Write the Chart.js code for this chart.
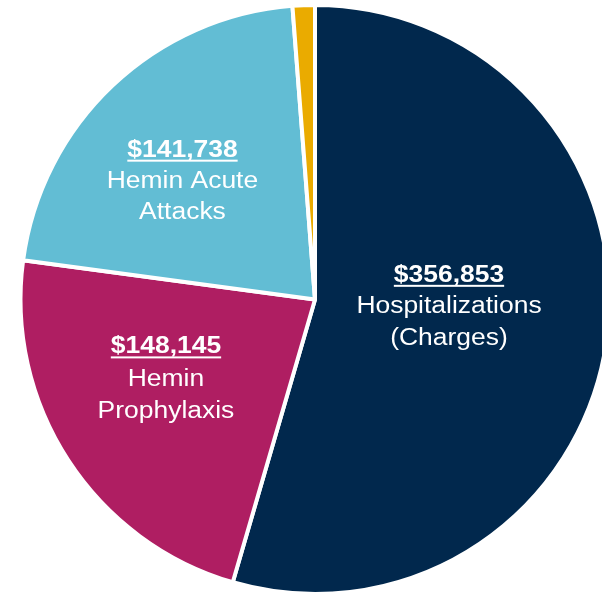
<!DOCTYPE html>
<html>
<head>
<meta charset="utf-8">
<script src="https://cdn.jsdelivr.net/npm/chart.js@4/dist/chart.umd.min.js"></script>
<style>
  html, body { margin: 0; padding: 0; background: #fff; overflow: hidden; }
  #wrap { position: absolute; left: 0; top: 3px; width: 630px; height: 593px; }
</style>
</head>
<body>
<div id="wrap"><canvas id="pie" width="630" height="593"></canvas></div>
<script>
// data
var categories = ["Hospitalizations (Charges)", "Hemin Prophylaxis", "Hemin Acute Attacks", "Other"];
var costs = [356853, 148145, 141738, 8000];
var amountLabels = ["$356,853", "$148,145", "$141,738", ""];
var nameLines = [["Hospitalizations", "(Charges)"], ["Hemin", "Prophylaxis"], ["Hemin Acute", "Attacks"], []];
var colors = ["#01284D", "#AF1E62", "#62BDD4", "#EAAB00"];

// where each text block sits, relative to the pie centre, in radii
var labelPos = [
    { dx: 0.455, dy: -0.06, gap: 0.107 },
    { dx: -0.506, dy: 0.183, gap: 0.11 },
    { dx: -0.450, dy: -0.485, gap: 0.106 }
];

var sliceLabels = {
    id: 'sliceLabels',
    afterDatasetsDraw: function(chart) {
        var ctx = chart.ctx;
        var arcs = chart.getDatasetMeta(0).data;
        var cx = arcs[0].x, cy = arcs[0].y, r = arcs[0].outerRadius;
        ctx.save();
        ctx.fillStyle = "#fff";
        ctx.strokeStyle = "#fff";
        ctx.textAlign = "center";
        ctx.textBaseline = "alphabetic";
        for (var i = 0; i < labelPos.length; i++) {
            var p = labelPos[i];
            var x = cx + p.dx * r;
            var y = cy + p.dy * r;
            var lines = [amountLabels[i]].concat(nameLines[i]);
            for (var j = 0; j < lines.length; j++) {
                var ly = y + j * p.gap * r;
                ctx.save();
                ctx.translate(x, ly);
                ctx.scale(1.15, 1);
                ctx.font = (j == 0 ? "bold " : "") + "23px 'Liberation Sans', Arial, sans-serif";
                ctx.fillText(lines[j], 0, 0);
                if (j == 0) {
                    var w = ctx.measureText(lines[j]).width;
                    ctx.fillRect(-w / 2, 3, w, 2);
                }
                ctx.restore();
            }
        }
        ctx.restore();
    }
};

var myChart = new Chart(document.getElementById("pie"), {
    type: 'pie',
    data: {
        labels: categories,
        datasets: [{
            data: costs,
            backgroundColor: colors,
            borderColor: "#fff",
            borderWidth: 4
        }]
    },
    options: {
        responsive: false,
        animation: false,
        devicePixelRatio: 1,
        layout: { padding: 0 },
        plugins: {
            legend: { display: false },
            tooltip: { enabled: false }
        }
    },
    plugins: [sliceLabels]
});
</script>
</body>
</html>
